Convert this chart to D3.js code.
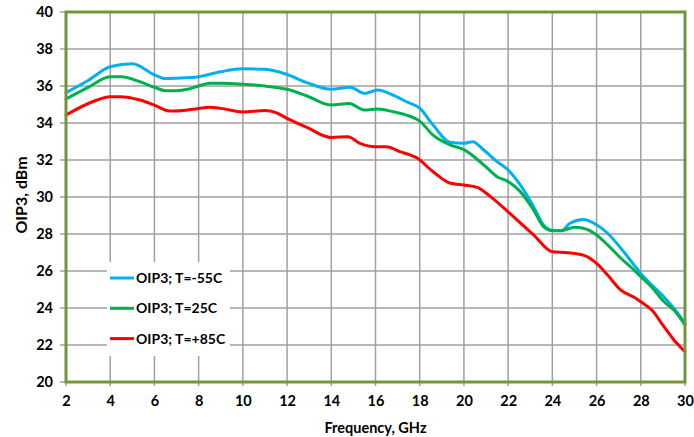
<!DOCTYPE html>
<html>
<head>
<meta charset="utf-8">
<script src="https://cdn.jsdelivr.net/npm/d3@7/dist/d3.min.js"></script>
<style>
  html, body { margin: 0; padding: 0; background: #fff; }
  svg { display: block; }
  text { font-family: Lato, "Open Sans", sans-serif; font-weight: bold; fill: #000; }
</style>
</head>
<body>
<svg id="chart" width="694" height="437"></svg>
<script>
// ---- Data ----
const seriesNames = ["OIP3; T=-55C", "OIP3; T=25C", "OIP3; T=+85C"];
const seriesColors = ["#00B0F0", "#00B050", "#FF0000"];

const freqM55 = [2, 3, 4, 5, 6, 6.5, 7, 8, 9, 10, 11, 12, 12.9, 14, 14.85, 15.5, 16.1, 16.8, 17.4, 18, 18.6, 19.4, 20, 20.4, 20.9, 21.5, 22, 22.55, 23.15, 23.6, 24, 24.4, 24.8, 25.4, 26, 26.5, 27.1, 27.7, 28, 28.5, 29.05, 29.5, 30];
const oip3M55 = [35.64, 36.3, 37.04, 37.2, 36.6, 36.4, 36.42, 36.5, 36.77, 36.93, 36.9, 36.62, 36.18, 35.82, 35.93, 35.6, 35.78, 35.51, 35.15, 34.8, 33.9, 32.94, 32.9, 32.99, 32.54, 31.91, 31.46, 30.65, 29.48, 28.49, 28.2, 28.18, 28.58, 28.79, 28.5, 28.04, 27.23, 26.32, 25.87, 25.24, 24.6, 23.98, 23.2];

const freq25 = [2, 3, 4, 4.5, 5.35, 6, 6.5, 7, 7.5, 8, 8.5, 9, 10, 11, 12, 12.9, 14, 14.8, 15.5, 16.1, 16.8, 17.4, 18, 18.6, 19.4, 20, 20.9, 21.5, 22, 22.55, 23.15, 23.6, 24, 24.4, 25, 25.4, 26, 26.5, 27.1, 27.7, 28, 28.5, 29.05, 29.5, 30];
const oip325 = [35.3, 35.93, 36.5, 36.5, 36.23, 35.93, 35.75, 35.75, 35.82, 36.0, 36.15, 36.15, 36.1, 36.0, 35.82, 35.46, 34.97, 35.05, 34.7, 34.76, 34.61, 34.43, 34.1, 33.35, 32.81, 32.56, 31.73, 31.1, 30.83, 30.29, 29.3, 28.4, 28.18, 28.18, 28.36, 28.31, 27.95, 27.41, 26.69, 26.05, 25.69, 25.12, 24.34, 23.89, 23.08];

const freqP85 = [2, 3.2, 4, 4.45, 5.35, 6, 6.7, 7, 8, 8.5, 9, 10, 11, 11.5, 12, 12.9, 14, 14.75, 15.3, 16, 16.5, 17.1, 17.9, 18.6, 19.4, 20, 20.6, 21.2, 22, 23.15, 24, 24.7, 25.4, 26, 26.5, 27.1, 27.7, 28, 28.5, 29.05, 29.5, 30];
const oip3P85 = [34.43, 35.15, 35.42, 35.42, 35.24, 34.97, 34.65, 34.65, 34.79, 34.85, 34.79, 34.6, 34.67, 34.56, 34.25, 33.76, 33.22, 33.26, 32.9, 32.72, 32.72, 32.45, 32.09, 31.37, 30.74, 30.65, 30.52, 30.02, 29.2, 27.95, 27.04, 26.99, 26.86, 26.41, 25.78, 24.97, 24.58, 24.34, 23.89, 22.99, 22.27, 21.64];

const xTicks = [2, 4, 6, 8, 10, 12, 14, 16, 18, 20, 22, 24, 26, 28, 30];
const yTicks = [20, 22, 24, 26, 28, 30, 32, 34, 36, 38, 40];
const xTitle = "Frequency, GHz";
const yTitle = "OIP3, dBm";

// ---- Layout ----
const svg = d3.select("#chart");
const L = 66, R = 685, T = 12, B = 382;
const x = d3.scaleLinear().domain([2, 30]).range([L, R]);
const y = d3.scaleLinear().domain([20, 40]).range([B, T]);

// gridlines
const grid = svg.append("g");
grid.selectAll("line.v").data(xTicks).enter().append("line")
  .attr("x1", d => x(d)).attr("x2", d => x(d))
  .attr("y1", T).attr("y2", B + 4)
  .attr("stroke", "#a0a0a0").attr("stroke-width", 1.5);
grid.selectAll("line.h").data(yTicks).enter().append("line")
  .attr("x1", L - 6).attr("x2", R)
  .attr("y1", d => y(d)).attr("y2", d => y(d))
  .attr("stroke", "#a0a0a0").attr("stroke-width", 1.5);

// axes labels via d3 axes
const xAxis = d3.axisBottom(x).tickValues(xTicks).tickSize(0).tickPadding(14).tickFormat(d3.format("d"));
const gx = svg.append("g").attr("transform", `translate(0,${B})`).call(xAxis);
gx.select(".domain").remove();
gx.selectAll("text").style("font-size", "14.5px").style("font-family", "Lato, 'Open Sans', sans-serif").style("font-weight", "bold").attr("fill", "#000");

const yAxis = d3.axisLeft(y).tickValues(yTicks).tickSize(0).tickPadding(13).tickFormat(d3.format("d"));
const gy = svg.append("g").attr("transform", `translate(${L},0)`).call(yAxis);
gy.select(".domain").remove();
gy.selectAll("text").style("font-size", "14.5px").style("font-family", "Lato, 'Open Sans', sans-serif").style("font-weight", "bold").attr("fill", "#000");

// series
const series = [
  { name: seriesNames[0], color: seriesColors[0], xs: freqM55, ys: oip3M55 },
  { name: seriesNames[1], color: seriesColors[1], xs: freq25, ys: oip325 },
  { name: seriesNames[2], color: seriesColors[2], xs: freqP85, ys: oip3P85 }
];
const line = d3.line().x(d => x(d[0])).y(d => y(d[1])).curve(d3.curveMonotoneX);
svg.append("g").selectAll("path").data(series).enter().append("path")
  .attr("d", s => line(s.xs.map((f, i) => [f, s.ys[i]])))
  .attr("fill", "none").attr("stroke", s => s.color)
  .attr("stroke-width", 3).attr("stroke-linejoin", "round").attr("stroke-linecap", "round");

// plot border
svg.append("rect").attr("x", L).attr("y", T).attr("width", R - L).attr("height", B - T)
  .attr("fill", "none").attr("stroke", "#77933C").attr("stroke-width", 3);

// legend
const lg = svg.append("g");
lg.append("rect").attr("x", 107).attr("y", 262).attr("width", 123).attr("height", 94).attr("fill", "#fff");
series.forEach((s, i) => {
  const yy = 278 + i * 30.3;
  lg.append("line").attr("x1", 110).attr("x2", 134).attr("y1", yy).attr("y2", yy)
    .attr("stroke", s.color).attr("stroke-width", 3);
  lg.append("text").attr("x", 136).attr("y", yy + 5).style("font-size", "14px").text(s.name);
});

// titles
svg.append("text").attr("x", (L + R) / 2).attr("y", 433).attr("text-anchor", "middle")
  .style("font-size", "14.5px").text(xTitle);
svg.append("text").attr("transform", `translate(27,${(T + B) / 2 - 2}) rotate(-90)`)
  .attr("text-anchor", "middle").style("font-size", "16px").text(yTitle);
</script>
</body>
</html>
